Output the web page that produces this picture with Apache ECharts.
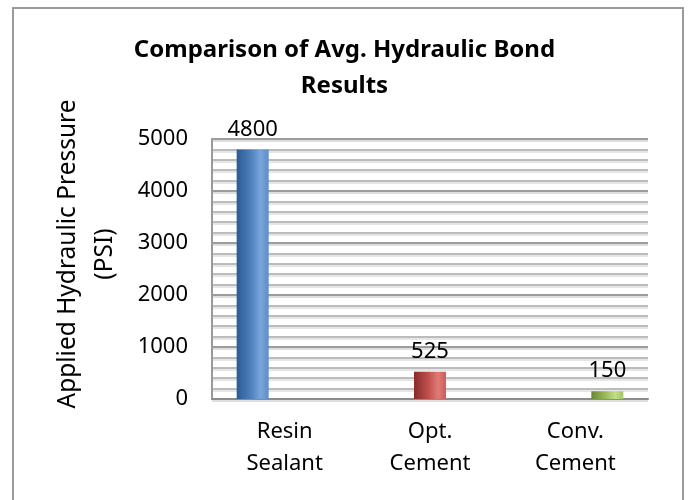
<!DOCTYPE html>
<html>
<head>
<meta charset="utf-8">
<script src="https://cdn.jsdelivr.net/npm/echarts@6/dist/echarts.min.js"></script>
<style>
  html, body { margin: 0; padding: 0; background: #fff; }
  #bondChart { width: 689px; height: 500px; }
</style>
</head>
<body>
<div id="bondChart"></div>
<script>
  // data
  var categories = ['Resin\nSealant', 'Opt.\nCement', 'Conv.\nCement'];
  var resinValues = [4800, null, null];
  var optValues = [null, 525, null];
  var convValues = [null, null, 150];
  var yTicks = [0, 1000, 2000, 3000, 4000, 5000];

  var font = 'Noto Sans';

  function barGradient(dark, mid, light, edge) {
    return new echarts.graphic.LinearGradient(0, 0, 1, 0, [
      { offset: 0, color: dark },
      { offset: 0.45, color: mid },
      { offset: 0.75, color: light },
      { offset: 1, color: edge }
    ]);
  }

  function makeSeries(name, data, fill) {
    return {
      name: name,
      type: 'bar',
      data: data,
      barWidth: 32,
      barGap: '0%',
      itemStyle: { color: fill },
      label: {
        show: true,
        position: 'top',
        distance: 9,
        fontFamily: font,
        fontSize: 22,
        color: '#000',
        formatter: function (p) { return p.value == null ? '' : p.value; }
      }
    };
  }

  var myChart = echarts.init(document.getElementById('bondChart'));
  var option = {
    animation: false,
    title: {
      text: 'Comparison of Avg. Hydraulic Bond\nResults',
      left: 'center',
      top: 27,
      textStyle: {
        fontFamily: font,
        fontWeight: 'bold',
        fontSize: 24,
        lineHeight: 36,
        color: '#000'
      }
    },
    graphic: [
      {
        type: 'rect',
        shape: { x: 13, y: 8, width: 670, height: 520 },
        style: { fill: null, stroke: '#9a9a9a', lineWidth: 2 },
        z: -1
      }
    ],
    grid: {
      left: 212,
      right: 41,
      top: 139,
      bottom: 101
    },
    xAxis: {
      type: 'category',
      data: categories,
      axisTick: { show: false },
      axisLine: { lineStyle: { color: '#8c8c8c', width: 2 } },
      axisLabel: {
        margin: 17,
        fontFamily: font,
        fontSize: 22,
        lineHeight: 32,
        color: '#000'
      }
    },
    yAxis: {
      type: 'value',
      min: yTicks[0],
      max: yTicks[yTicks.length - 1],
      interval: 1000,
      name: 'Applied Hydraulic Pressure\n(PSI)',
      nameLocation: 'middle',
      nameRotate: 90,
      nameGap: 88,
      nameTextStyle: {
        fontFamily: font,
        fontSize: 24.5,
        lineHeight: 37,
        color: '#000',
        padding: [0, 0, 0, 30]
      },
      axisLine: { show: true, lineStyle: { color: '#9a9a9a', width: 2 } },
      axisTick: { show: false },
      axisLabel: {
        margin: 24,
        fontFamily: font,
        fontSize: 22,
        color: '#000',
        formatter: function (v) { return String(v); }
      },
      splitLine: {
        lineStyle: {
          color: '#9c9c9c',
          width: 2,
          shadowColor: '#dedede',
          shadowOffsetY: 2
        }
      },
      minorTick: { show: false, splitNumber: 5 },
      minorSplitLine: {
        show: true,
        lineStyle: {
          color: '#bcbcbc',
          width: 2,
          shadowColor: '#e6e6e6',
          shadowOffsetY: 2
        }
      }
    },
    series: [
      makeSeries('Resin Sealant', resinValues, barGradient('#2c5a93', '#4f81bd', '#79a5dc', '#5d8cc8')),
      makeSeries('Opt. Cement', optValues, barGradient('#862e2b', '#c0504d', '#e07a76', '#cc5d5a')),
      makeSeries('Conv. Cement', convValues, barGradient('#6b8636', '#9bbb59', '#c2dd88', '#a6c566'))
    ]
  };
  myChart.setOption(option);
</script>
</body>
</html>
